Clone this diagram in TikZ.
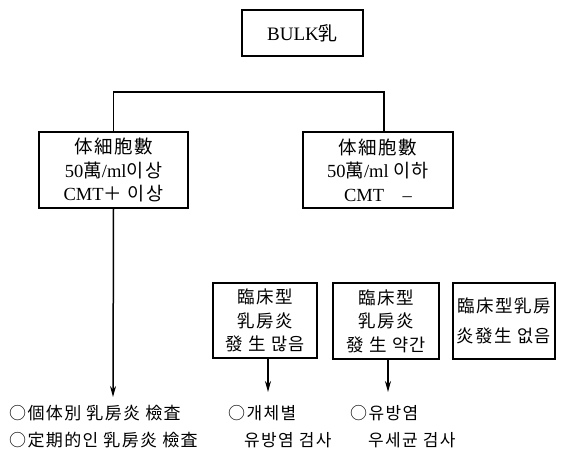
\documentclass[tikz,border=0pt]{standalone}
\usepackage{fontspec}
\setmainfont{Liberation Serif}
\newfontfamily\cjk[LetterSpace=8]{Noto Sans CJK KR}
\usetikzlibrary{arrows.meta}
\newcommand\K[1]{{\cjk #1}}
\begin{document}
\begin{tikzpicture}[x=1pt,y=-1pt,
  box/.style={draw, line width=2pt, inner sep=0pt, align=center},
  con/.style={line width=1.5pt},
  arr/.style={con, -{Stealth[length=11pt,width=6pt]}},
  toptext/.style={font=\fontsize{18.5}{23.5}\selectfont},
  smalltext/.style={font=\fontsize{17.5}{23.5}\selectfont},
  bottext/.style={font=\fontsize{17}{20}\selectfont, inner sep=0pt, anchor=base west}]
\useasboundingbox (0,0) rectangle (565,450);
\fill[white] (0,0) rectangle (565,450);
% boxes
\node[box, minimum width=121pt, minimum height=46pt, font=\fontsize{19}{20}\selectfont] (bulk) at (302.5,33) {BULK\K{乳}};
\node[box, toptext, minimum width=149pt, minimum height=76pt] (L) at (113.5,170)
  {\K{体細胞數}\\50\K{萬}/ml\K{이상}\\CMT\K{＋ 이상}};
\node[box, toptext, minimum width=150pt, minimum height=76pt] (R) at (378,170)
  {\K{体細胞數}\\50\K{萬}/ml \K{이하}\\CMT\quad --};
\node[box, smalltext, minimum width=104pt, minimum height=75pt] (B1) at (265,320.5)
  {\K{臨床型}\\\K{乳房炎}\\\K{發 生 많음}};
\node[box, smalltext, minimum width=106pt, minimum height=76pt] (B2) at (386,321)
  {\K{臨床型}\\\K{乳房炎}\\\K{發 生 약간}};
\node[box, smalltext, minimum width=102pt, minimum height=76pt] (B3) at (504,321)
  {\K{臨床型乳房}\\[6pt]\K{炎發生 없음}};
% connectors
\draw[con] (L.north) -- ++(0,-39) -| ([xshift=6pt]R.north);
\coordinate (eL) at (113,397);
\coordinate (e1) at (268,392);
\coordinate (e2) at (388,392);
\draw[arr] (L.south) -- (eL);
\draw[arr] ([xshift=3pt]B1.south) -- (e1);
\draw[arr] ([xshift=2pt]B2.south) -- (e2);
% bottom texts
\node[bottext] (t1a) at (9,419) {\K{○個体別 乳房炎 檢査}};
\node[bottext] (t1b) at (9,446) {\K{○定期的인 乳房炎 檢査}};
\node[bottext] (t2a) at (228,419) {\K{○개체별}};
\node[bottext] (t2b) at (244,446) {\K{유방염 검사}};
\node[bottext] (t3a) at (350,419) {\K{○유방염}};
\node[bottext] (t3b) at (368,446) {\K{우세균 검사}};
\end{tikzpicture}
\end{document}
